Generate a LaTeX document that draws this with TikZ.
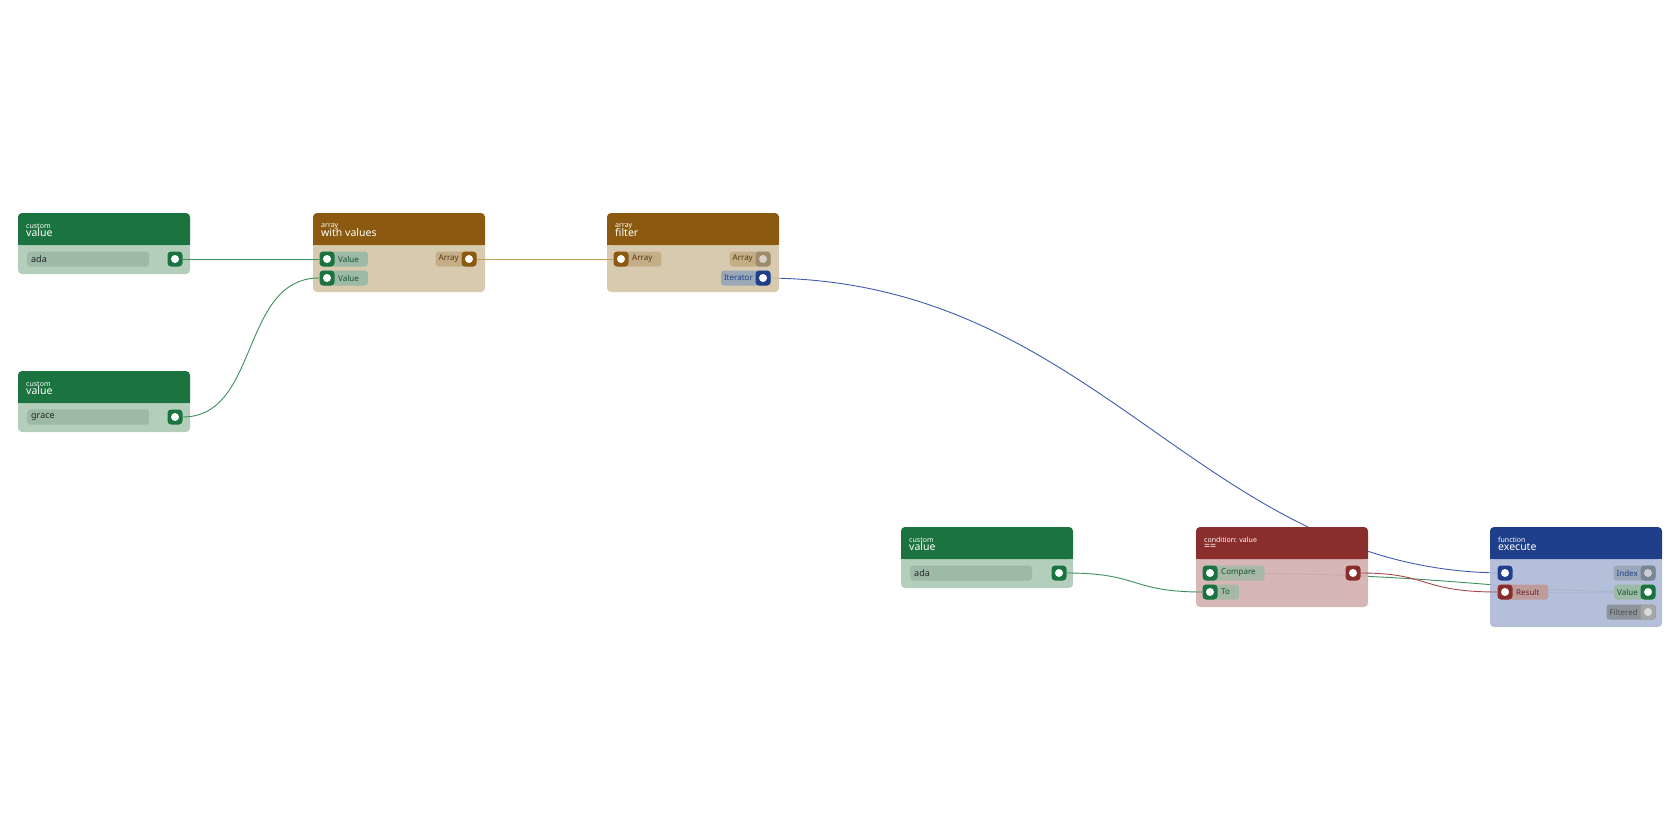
\documentclass[tikz,border=0pt]{standalone}
\usepackage{fontspec}
\setmainfont{Noto Sans}
\usetikzlibrary{positioning}
\definecolor{gHead}{HTML}{1B7340}\definecolor{gBody}{HTML}{ADCBB6}\definecolor{gPill}{HTML}{9CBAA5}
\definecolor{bHead}{HTML}{8B5A10}\definecolor{bBody}{HTML}{D4C5A8}\definecolor{bPill}{HTML}{C4AE87}
\definecolor{rHead}{HTML}{8A2D2D}\definecolor{rBody}{HTML}{D4B0B0}\definecolor{rPill}{HTML}{BE9C9C}
\definecolor{uHead}{HTML}{1F3F8A}\definecolor{uBody}{HTML}{AFBAD6}\definecolor{uPill}{HTML}{9AA8B8}
\definecolor{gWire}{HTML}{3E8F5C}\definecolor{bWire}{HTML}{C09A60}\definecolor{rWire}{HTML}{A84848}\definecolor{uWire}{HTML}{3F5BB0}
% node frame: x, top, body height, colour prefix, kind, title
\newcommand{\frameBox}[6]{
  \fill[#4Body, fill opacity=0.92, rounded corners=4] (#1,#2+20) rectangle (#1+172,#2+32+#3);
  \fill[#4Head, rounded corners=4] (#1,#2) rectangle (#1+172,#2+32);
  \fill[#4Head] (#1,#2+24) rectangle (#1+172,#2+32);
  \node[kind] at (#1+8,#2+13) {#5};
  \node[title] at (#1+8,#2+20) {#6};
}
\newcommand{\gap}{\rule{15pt}{0pt}}
\newcommand{\tail}{\rule{6pt}{0pt}}
\begin{document}
\begin{tikzpicture}[x=1pt, y=-1pt,
  kind/.style={anchor=west, inner sep=0pt, text=white!80, font=\fontsize{7}{7}\selectfont},
  title/.style={anchor=west, inner sep=0pt, text=white, font=\fontsize{10.5}{10}\selectfont},
  port/.style={rectangle, rounded corners=3.5, minimum size=15, inner sep=0pt, fill=#1,
    path picture={\fill[white] (path picture bounding box.center) circle (4);}},
  dim/.style={rectangle, rounded corners=3.5, minimum size=15, inner sep=0pt, fill=#1,
    path picture={\fill[white, opacity=0.6] (path picture bounding box.center) circle (4);}},
  pill/.style={rectangle, rounded corners=3, minimum height=15, inner sep=3pt, fill=#1,
    font=\fontsize{8}{8}\selectfont},
  field/.style={rectangle, rounded corners=3, minimum height=15, minimum width=122, inner sep=4pt,
    fill=gPill, anchor=west, text width=114, font=\fontsize{9}{9}\selectfont, text=black!85},
  wire/.style={line width=0.9pt}
]
\useasboundingbox (0,0) rectangle (1680,840);

% wires (under the nodes)
\coordinate (c1) at (1210,573);
\draw[wire, uWire] (763,278) coordinate (it0) .. controls (1100,278) and (1200,573) .. (1505,573);
\draw[wire, gWire] (c1) .. controls (1450,573) and (1500,592) .. (1648,592);
\draw[wire, uPill] (1505,592) -- (1648,592);

% custom value: ada
\frameBox{18}{213}{29}{g}{custom}{value}
\node[field] (f1) at (27,259) {ada};
\node[port=gHead] (o1) at (175,259) {};

% custom value: grace
\frameBox{18}{371}{29}{g}{custom}{value}
\node[field] (f2) at (27,417) {grace};
\node[port=gHead] (o2) at (175,417) {};

% array with values
\frameBox{313}{213}{47}{b}{array}{with values}
\node[pill=gPill, text=gHead!70!black, anchor=west] (l3a) at (320,259) {\gap Value\tail};
\node[pill=gPill, text=gHead!70!black, anchor=west] (l3b) at (320,278) {\gap Value\tail};
\node[port=gHead] (i3a) at (327,259) {};
\node[port=gHead] (i3b) at (327,278) {};
\node[pill=bPill, text=bHead!60!black, anchor=east] (l3c) at (477,259) {Array\gap};
\node[port=bHead] (o3) at (469,259) {};

% array filter
\frameBox{607}{213}{47}{b}{array}{filter}
\node[pill=bPill, text=bHead!60!black, anchor=west] (l4a) at (614,259) {\gap Array\tail};
\node[port=bHead] (i4) at (621,259) {};
\node[pill=bPill, text=bHead!60!black, anchor=east] (l4b) at (771,259) {Array\gap};
\node[dim=bPill!80!black] (o4a) at (763,259) {};
\node[pill=uPill, text=uHead, anchor=east] (l4c) at (771,278) {Iterator\gap};
\node[port=uHead] (o4b) at (763,278) {};

% custom value: ada
\frameBox{901}{527}{29}{g}{custom}{value}
\node[field] (f5) at (910,573) {ada};
\node[port=gHead] (o5) at (1059,573) {};

% condition ==
\frameBox{1196}{527}{48}{r}{condition: value}{==}
\node[pill=gPill!80!rBody, text=gHead!70!black, anchor=west] (l6a) at (1203,573) {\gap Compare\tail};
\node[pill=gPill!80!rBody, text=gHead!70!black, anchor=west] (l6b) at (1203,592) {\gap To\tail};
\node[port=gHead] (i6a) at (1210,573) {};
\node[port=gHead] (i6b) at (1210,592) {};
\node[port=rHead] (o6) at (1353,573) {};

% function execute
\frameBox{1490}{527}{68}{u}{function}{execute}
\node[port=uHead] (i7a) at (1505,573) {};
\node[pill=rPill, text=rHead!80!black, anchor=west] (l7b) at (1498,592) {\gap Result\tail};
\node[port=rHead] (i7b) at (1505,592) {};
\node[pill=uPill, text=uHead, anchor=east] (l7c) at (1656,573) {Index\gap};
\node[dim=uPill!80!black] (o7a) at (1648,573) {};
\node[pill=gPill, text=gHead!70!black, anchor=east] (l7d) at (1656,592) {Value\gap};
\node[port=gHead] (o7b) at (1648,592) {};
\node[pill=uPill!50!gray, text=black!70, anchor=east] (l7e) at (1656,612) {Filtered\gap};
\node[dim=gray!70] (o7c) at (1648,612) {};

% wires between ports
\draw[wire, gWire] (o1) -- (i3a);
\draw[wire, gWire] (o2.east) .. controls (260,417) and (240,278) .. (i3b.west);
\draw[wire, bWire] (o3) -- (i4);
\draw[wire, gWire] (o5.east) .. controls (1140,573) and (1130,592) .. (i6b.west);
\draw[wire, rWire] (o6.east) .. controls (1430,573) and (1420,592) .. (i7b.west);
\end{tikzpicture}
\end{document}
